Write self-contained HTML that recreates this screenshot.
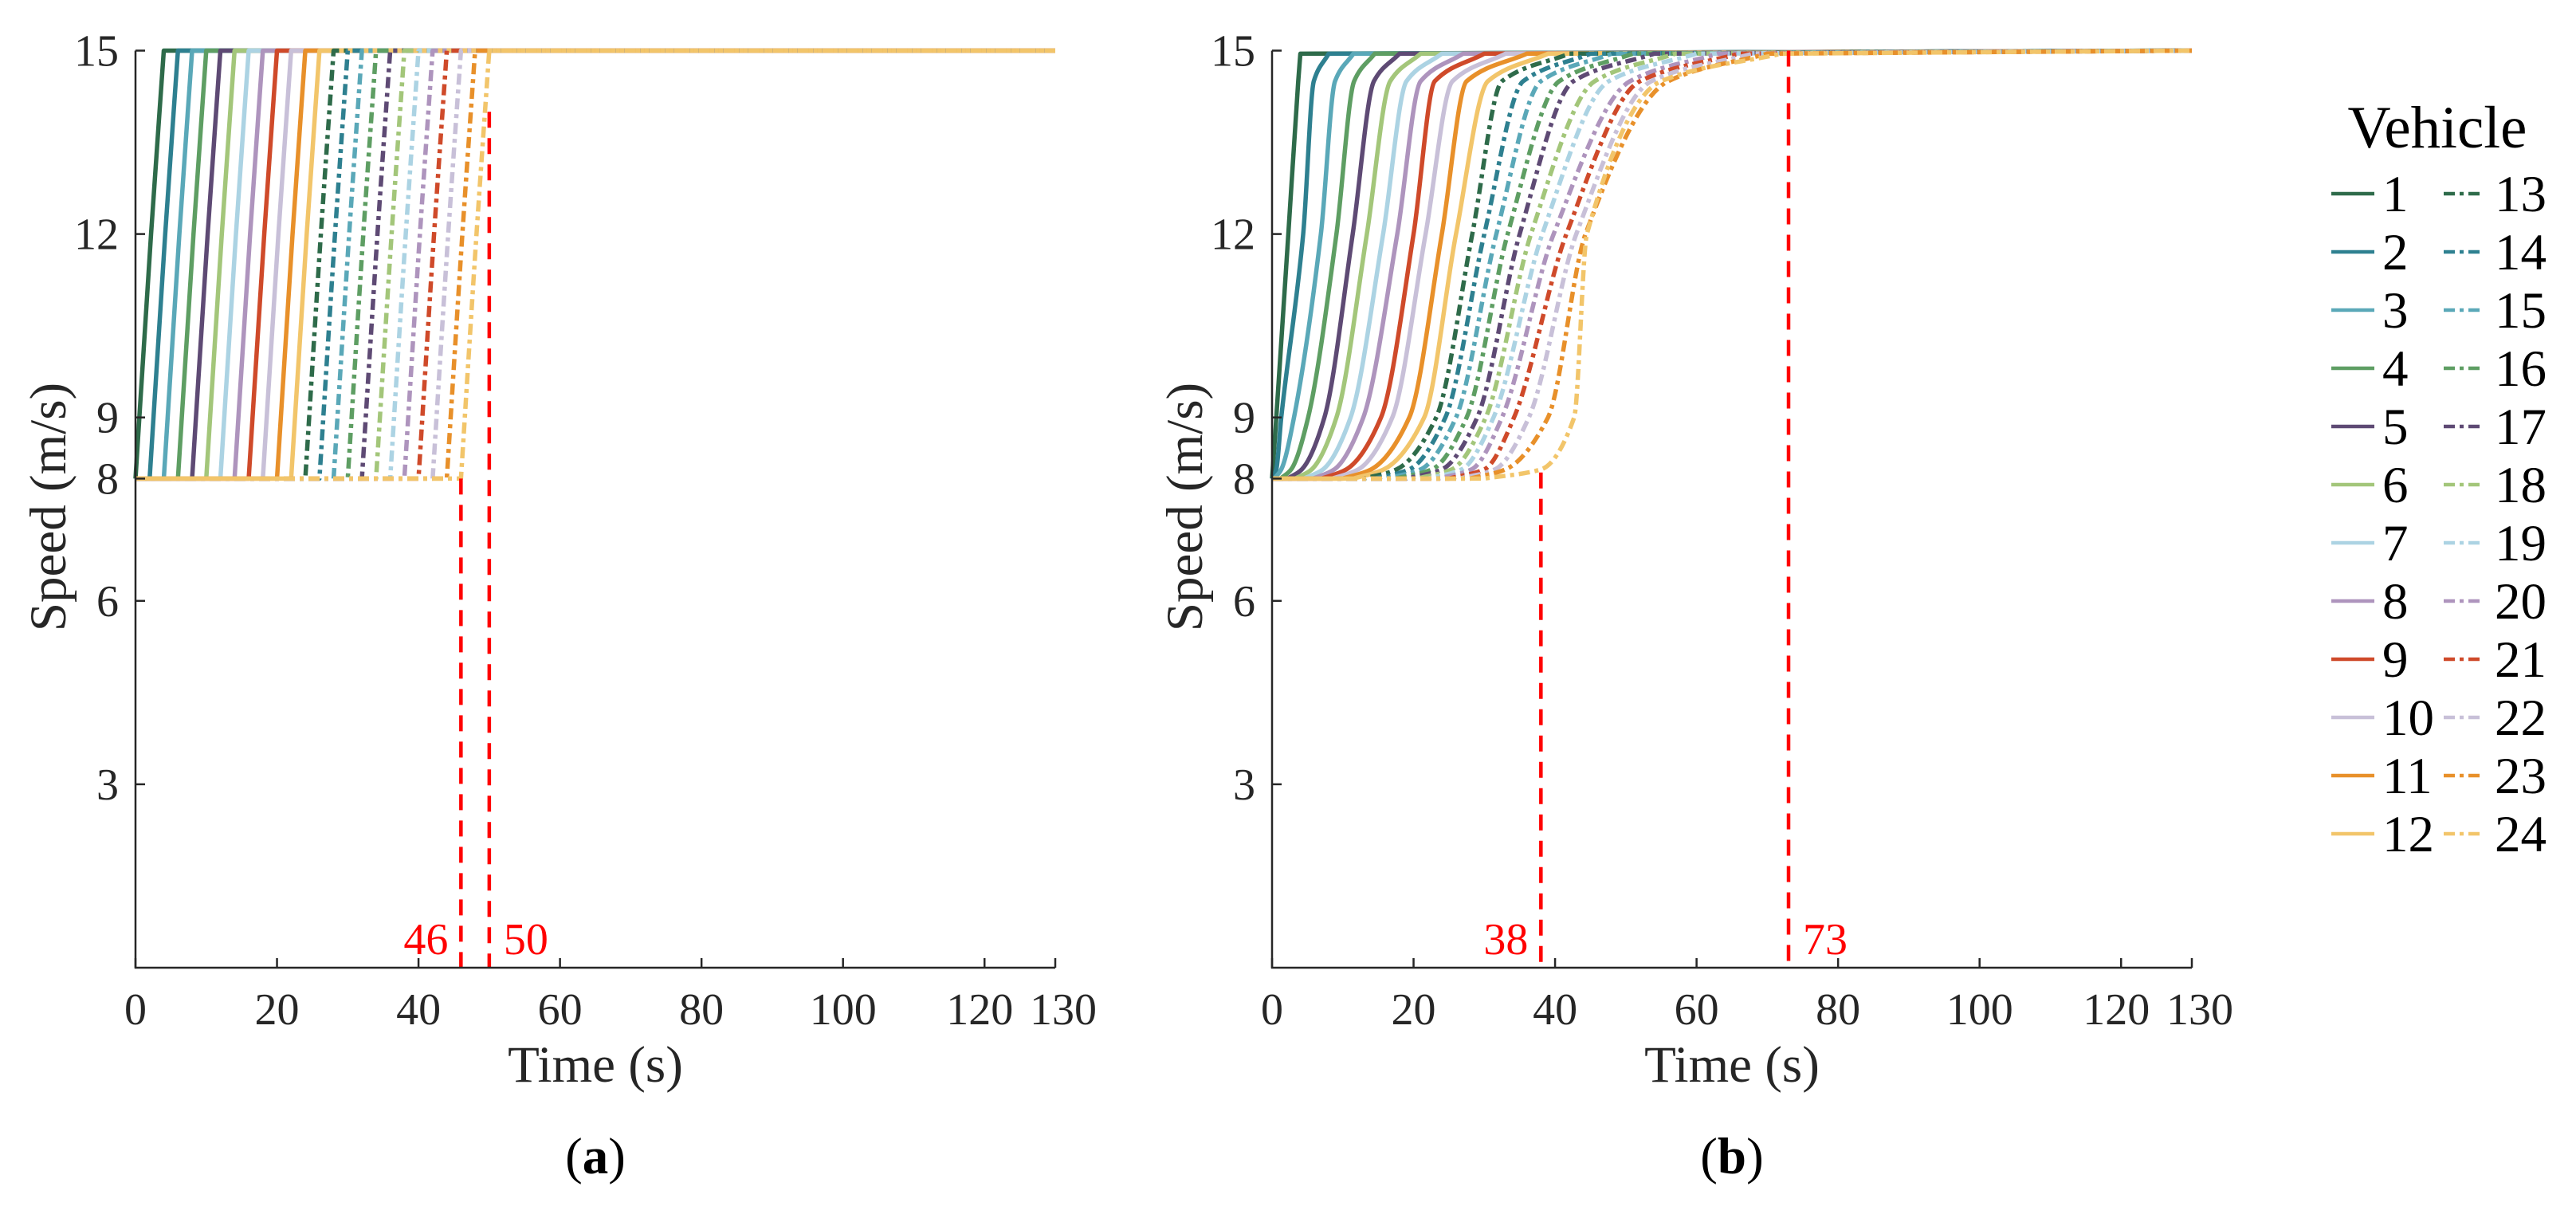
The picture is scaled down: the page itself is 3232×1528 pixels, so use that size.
<!DOCTYPE html>
<html><head><meta charset="utf-8"><style>
html,body{margin:0;padding:0;background:#fff}
svg{display:block;font-family:"Liberation Serif","Times New Roman",serif}
svg text{font-family:"Liberation Serif","Times New Roman",serif}
</style></head><body>
<svg id="fig" width="3232" height="1528" viewBox="0 0 3232 1528" xmlns="http://www.w3.org/2000/svg" font-family="Liberation Serif, serif"></svg>
<script>
// ---- data ----
const colors = ["#2e6b4a","#2e8090","#5aa8b8","#5e9e63","#5e4a74","#a3c67a","#acd3e3","#ae94bd","#cf4a2a","#c8c0d8","#e8902a","#f2c56a"];
const vehicles = [1,2,3,4,5,6,7,8,9,10,11,12,13,14,15,16,17,18,19,20,21,22,23,24];
const yTicks = [3,6,8,9,12,15];
const xTicks = [0,20,40,60,80,100,120,130];
// panel (a): time each vehicle leaves 8 m/s, passes 12 m/s and reaches 15 m/s
const aStart = [0,2,4,6,8,10,12,14,16,18,20,22,24,26,28,30,32,34,36,38,40,42,44,46];
const aMid = [2.2,4.2,6.2,8.2,10.2,12.2,14.2,16.2,18.2,20.2,22.2,24.2,26.2,28.2,30.2,32.2,34.2,36.2,38.2,40.2,42.2,44.2,46.2,48.2];
const aEnd   = [4,6,8,10,12,14,16,18,20,22,24,26,28,30,32,34,36,38,40,42,44,46,48,50];
const aLevels = [8, 12, 15];
// panel (b): time at which each vehicle reaches these speed levels
const bLevels = [8, 8.15, 9, 12, 14.5, 14.95];
const bTimes = [
 [0,0.1,0.6,2.3,3.7,4.0],
 [0,0.6,1.3,4.4,5.9,8],
 [0.3,1.3,3.1,6.9,8.9,11.5],
 [1.2,2.7,5.1,9.1,11.6,14.5],
 [2.2,4.2,7.4,11.4,14.4,18],
 [3.3,5.6,9.1,13.4,16.7,21],
 [4.5,7.2,11.1,15.7,19,24],
 [5.8,8.8,12.9,17.7,21,27],
 [7,10.5,15.4,20,23,30],
 [8.5,12.2,17,21.7,25.5,33],
 [10,14,19.4,24,27.5,36],
 [11.5,15.8,21.5,26,30.5,39],
 [13,17.6,23.2,28.3,32.5,42],
 [14.5,19.4,24.5,30,35.5,45],
 [16,21,26,31.7,38,48],
 [17.5,22.6,27.5,33.3,40.6,51],
 [19,24,29,35,42.6,54],
 [20.5,25.4,30.2,36.6,45.6,57],
 [22,26.8,31.3,38.2,47.6,60],
 [23.5,28.2,32.5,39.8,50.6,63],
 [25,30,34.2,41.6,52,66],
 [26.5,31.5,36.3,43,53.6,68],
 [28,33,39,44.3,56,70],
 [30,38,42.7,44.5,55,72]
];
const aMarkers = [46, 50];
const aMarkerTop = [8, 14];
const bMarkers = [38, 73];
const bMarkerTop = [8.1, 15];

// ---- layout ----
const NS = "http://www.w3.org/2000/svg";
const FONT = '"Liberation Serif", "Times New Roman", serif';
const svg = document.getElementById("fig");
const Y0 = 1214, YPU = 76.7, PW = 1154, TMAX = 130;
const yS = v => Y0 - v * YPU;
const mkX = left => t => left + t * PW / TMAX;
function el(tag, attrs, parent) {
  const e = document.createElementNS(NS, tag);
  for (const k in attrs) e.setAttribute(k, attrs[k]);
  if (tag === "text") e.style.fontFamily = FONT;
  (parent || svg).appendChild(e);
  return e;
}
function monotonePath(xs, ys) {
  const n = xs.length;
  if (n < 3) return "M" + xs.map((x, i) => x + "," + ys[i]).join("L");
  const d = [], m = new Array(n);
  for (let i = 0; i < n - 1; i++) d.push((ys[i+1]-ys[i]) / ((xs[i+1]-xs[i]) || 1e-6));
  m[0] = d[0]; m[n-1] = d[n-2];
  for (let i = 1; i < n - 1; i++) m[i] = (d[i-1]*d[i] <= 0) ? 0 : 2/(1/d[i-1]+1/d[i]);
  let p = "M" + xs[0] + "," + ys[0];
  for (let i = 0; i < n - 1; i++) {
    const h = (xs[i+1]-xs[i]) / 3;
    p += " C" + (xs[i]+h) + "," + (ys[i]+m[i]*h) + " " + (xs[i+1]-h) + "," + (ys[i+1]-m[i+1]*h) + " " + xs[i+1] + "," + ys[i+1];
  }
  return p;
}
function seriesPath(xf, times, levels) {
  const px = [], py = [];
  times.forEach((t, i) => { px.push(xf(t)); py.push(yS(levels[i])); });
  let p = monotonePath(px, py);
  if (times[0] > 0) p = "M" + xf(0) + "," + yS(levels[0]) + " L" + p.slice(1);
  p += " L" + xf(TMAX) + "," + yS(15);
  return p;
}

function drawPanel(id, left, letter, seriesTimes, levels, markers, markerTop) {
  const xf = mkX(left);
  const g = el("g", {});
  
  
  vehicles.forEach((v, i) => {
    const p = el("path", {d: seriesPath(xf, seriesTimes[i], levels), fill: "none",
      stroke: colors[i % 12], "stroke-width": 5.5, "stroke-linejoin": "round"}, g);
    if (i >= 12) p.setAttribute("stroke-dasharray", "14 6 5 6");
    
    
  });
  markers.forEach((t, k) => {
    const l = el("line", {x1: xf(t), x2: xf(t), y1: yS(markerTop[k]), y2: Y0, stroke: "#ff0000",
      "stroke-width": 4.5, "stroke-dasharray": "20 13"}, g);
    
    
    const tx = el("text", {x: k === 0 ? xf(t) - 16 : xf(t) + 18, y: 1197, "font-size": 56, fill: "#ff0000",
      "text-anchor": k === 0 ? "end" : "start"}, g);
    tx.textContent = String(t);
    
    
  });
  const ax = el("path", {d: "M" + left + "," + yS(15) + " L" + left + "," + Y0 + " L" + (left + PW) + "," + Y0,
    fill: "none", stroke: "#262626", "stroke-width": 2.5}, g);
  
  
  yTicks.forEach(v => {
    const t = el("line", {x1: left, x2: left + 12, y1: yS(v), y2: yS(v), stroke: "#262626", "stroke-width": 2.5}, g);
    
    
    const tx = el("text", {x: left - 21, y: yS(v) + 19, "font-size": 56, fill: "#262626", "text-anchor": "end"}, g);
    tx.textContent = String(v);
    
    
  });
  xTicks.forEach(v => {
    const t = el("line", {x1: xf(v), x2: xf(v), y1: Y0, y2: Y0 - 12, stroke: "#262626", "stroke-width": 2.5}, g);
    
    
    const tx = el("text", {x: xf(v) + (v === 120 ? -6 : v === 130 ? 10 : 0), y: 1285, "font-size": 56, fill: "#262626", "text-anchor": "middle"}, g);
    tx.textContent = String(v);
    
    
  });
  const xt = el("text", {x: left + PW / 2, y: 1357, "font-size": 65, fill: "#262626", "text-anchor": "middle"}, g);
  xt.textContent = "Time (s)";
  
  
  const yt = el("text", {x: 0, y: 0, "font-size": 65, fill: "#262626", "text-anchor": "middle",
    transform: "translate(" + (left - 88) + ",636) rotate(-90)"}, g);
  yt.textContent = "Speed (m/s)";
  
  
  const cap = el("text", {x: left + PW / 2, y: 1472, "font-size": 65, fill: "#000", "text-anchor": "middle"}, g);
  cap.innerHTML = '(<tspan font-weight="bold">' + letter + '</tspan>)';
  
  
}

const aTimes = vehicles.map((v, i) => [aStart[i], aMid[i], aEnd[i]]);
drawPanel("a", 170, "a", aTimes, aLevels, aMarkers, aMarkerTop);
drawPanel("b", 1596, "b", bTimes, bLevels, bMarkers, bMarkerTop);

// legend
const lg = el("g", {});


const lt = el("text", {x: 3058, y: 185, "font-size": 75, fill: "#000", "text-anchor": "middle"}, lg);
lt.textContent = "Vehicle";


vehicles.forEach((v, i) => {
  const col = i < 12 ? 0 : 1, row = i % 12;
  const yy = 243 + row * 73;
  const x1 = col ? 3066 : 2925, x2 = col ? 3117 : 2979;
  const ln = el("line", {x1: x1, x2: x2, y1: yy, y2: yy, stroke: colors[i % 12], "stroke-width": 4.5}, lg);
  if (col) ln.setAttribute("stroke-dasharray", "14 6 5 6");
  
  
  const tx = el("text", {x: col ? 3130 : 2989, y: yy + 22, "font-size": 65, fill: "#000"}, lg);
  tx.textContent = String(v);
  
  
});
</script>
</body></html>
